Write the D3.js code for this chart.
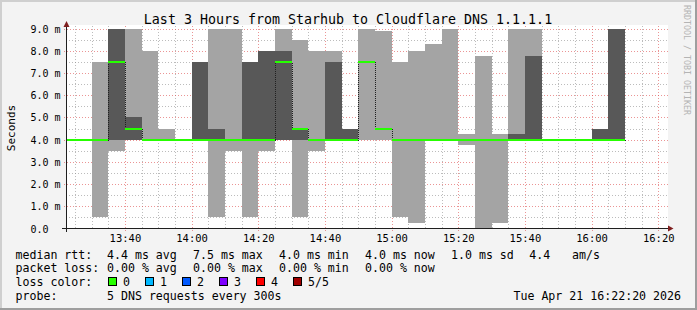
<!DOCTYPE html>
<html><head><meta charset="utf-8">
<script src="https://cdn.jsdelivr.net/npm/d3@7"></script>
<style>
body{margin:0;background:#f3f3f3}
svg{display:block}
text{font-family:"DejaVu Sans Mono",monospace;fill:#000}
</style>
</head><body><svg id="c" width="697" height="310"></svg>
<script>
// ---- data (5-minute intervals, start times) ----
const times = ["13:20","13:25","13:30","13:35","13:40","13:45","13:50","13:55",
  "14:00","14:05","14:10","14:15","14:20","14:25","14:30","14:35","14:40","14:45","14:50","14:55",
  "15:00","15:05","15:10","15:15","15:20","15:25","15:30","15:35","15:40","15:45","15:50","15:55",
  "16:00","16:05"];
// sorted ping results (ms), ping1 = fastest ... ping5 = slowest
const ping1 = [4,4,0.5,3.5,4,4,4,4, 4,0.5,3.5,0.5,3.5,4,0.5,3.5,4,4,4,4, 0.5,0.25,4,4,3.75,0,0.25,4,4,4,4,4, 4,4];
const ping2 = [4,4,4,4,4,4,4,4, 4,4,4,4,4,4,4,4,4,4,7.5,4.5, 4,4,4,4,4,4,4,4,4,4,4,4, 4,4];
const ping3 = [4,4,4,7.5,4.5,4,4,4, 4,4,4,4,4,7.5,4.5,4,4,4,7.5,4.5, 4,4,4,4,4,4,4,4,4,4,4,4, 4,4];
const ping4 = [4,4,4,11,5,4,4,4, 7.5,4.5,4,7.5,8,8,4.5,4,7.5,4.5,7.5,4.5, 4,4,4,4,4,4,4,4.25,7.75,4,4,4, 4.5,11];
const ping5 = [4,4,7.5,14,12,8,4.5,4, 7.5,13,12,7.5,8,11,8.5,8,8,4.5,12,8.9, 7.5,8,8.3,11,4.25,7.75,4.25,12,13,4,4,4, 4.5,12];
const loss  = [0,0,0,0,0,0,0,0, 0,0,0,0,0,0,0,0,0,0,0,0, 0,0,0,0,0,0,0,0,0,0,0,0, 0,0];
const yTicks = [1,2,3,4,5,6,7,8,9];
const yTickLabels = ["0.0","1.0 m","2.0 m","3.0 m","4.0 m","5.0 m","6.0 m","7.0 m","8.0 m","9.0 m"];
const xTickLabels = ["13:40","14:00","14:20","14:40","15:00","15:20","15:40","16:00","16:20"];
const lossLabels = ["0","1","2","3","4","5/5"];
const lossColors = ["#26ff00","#00b8ff","#0059ff","#7e00ff","#ff0000","#a00000"];
const title = "Last 3 Hours from Starhub to Cloudflare DNS 1.1.1.1";
const probeText = "5 DNS requests every 300s";
const stamp = "Tue Apr 21 16:22:20 2026";

// ---- scales ----
const day = "2026-04-21 ";
const parse = d3.timeParse("%Y-%m-%d %H:%M:%S");
const pt = s => parse(day + (s.length === 5 ? s + ":00" : s));
const tStart = pt("13:22:20"), tEnd = pt("16:22:20");
const X0 = 66, X1 = 666, Y0 = 228.5, Y1 = 28.5;
const x = d3.scaleTime().domain([tStart, tEnd]).range([X0, X1]);
const y = d3.scaleLinear().domain([0, 9]).range([Y0, Y1]);
const yc = v => y(Math.min(v, 9));

const svg = d3.select("#c");
// background + frame
svg.append("rect").attr("width",697).attr("height",310).attr("fill","#f3f3f3");
svg.append("rect").attr("x",0).attr("y",0).attr("width",697).attr("height",2).attr("fill","#cfcfcf");
svg.append("rect").attr("x",0).attr("y",0).attr("width",2).attr("height",310).attr("fill","#cfcfcf");
svg.append("rect").attr("x",695).attr("y",0).attr("width",2).attr("height",310).attr("fill","#9e9e9e");
svg.append("rect").attr("x",0).attr("y",308).attr("width",697).attr("height",2).attr("fill","#9e9e9e");
// canvas
svg.append("rect").attr("x",X0).attr("y",25).attr("width",X1 - X0 + 2).attr("height",Y0 - 25).attr("fill","#fff");

// ---- grid ----
const grid = svg.append("g").attr("shape-rendering","crispEdges").attr("stroke-width",1);
const minorY = d3.range(1, 18).map(i => i * 0.5).filter(v => v % 1 !== 0);
grid.selectAll(".hmin").data(minorY).enter().append("line")
  .attr("x1",X0).attr("x2",X1 + 2).attr("y1",d=>Math.round(y(d))+0.5).attr("y2",d=>Math.round(y(d))+0.5)
  .attr("stroke","rgba(143,143,143,0.6)").attr("stroke-dasharray","1,2");
const minorX = d3.timeMinute.every(5).range(tStart, tEnd).filter(d => d.getMinutes() % 20 !== 0);
grid.selectAll(".vmin").data(minorX).enter().append("line")
  .attr("x1",d=>Math.round(x(d))+0.5).attr("x2",d=>Math.round(x(d))+0.5).attr("y1",Y1-3).attr("y2",Y0)
  .attr("stroke","rgba(143,143,143,0.6)").attr("stroke-dasharray","1,2");
grid.selectAll(".hmaj").data(yTicks).enter().append("line")
  .attr("x1",X0 - 2).attr("x2",X1 + 2).attr("y1",d=>Math.round(y(d))+0.5).attr("y2",d=>Math.round(y(d))+0.5)
  .attr("stroke","rgba(222,79,79,0.6)").attr("stroke-dasharray","1,2");
const majorX = xTickLabels.map(pt);
grid.selectAll(".vmaj").data(majorX).enter().append("line")
  .attr("x1",d=>Math.round(x(d))+0.5).attr("x2",d=>Math.round(x(d))+0.5).attr("y1",Y1-3).attr("y2",Y0 + 2)
  .attr("stroke","rgba(222,79,79,0.6)").attr("stroke-dasharray","1,2");

// ---- smoke ----
const rows = times.map((t, i) => {
  const s = pt(t);
  const e = d3.timeMinute.offset(s, 5);
  return {s: s < tStart ? tStart : s, e, p1: ping1[i], p2: ping2[i], p3: ping3[i], p4: ping4[i], p5: ping5[i], loss: loss[i]};
});
const smoke = svg.append("g").attr("shape-rendering","crispEdges");
rows.forEach(r => {
  const xa = Math.round(x(r.s)), xb = Math.round(x(r.e));
  const h1 = y(r.p1) - yc(r.p5);
  if (h1 > 0.1) smoke.append("rect").attr("x",xa).attr("width",xb - xa)
    .attr("y",Math.round(yc(r.p5))).attr("height",Math.round(y(r.p1)) - Math.round(yc(r.p5))).attr("fill","#a4a4a4");
  const h2 = y(r.p2) - yc(r.p4);
  if (h2 > 0.1) smoke.append("rect").attr("x",xa).attr("width",xb - xa)
    .attr("y",Math.round(yc(r.p4))).attr("height",Math.round(y(r.p2)) - Math.round(yc(r.p4))).attr("fill","#585858");
});

// ---- median ----
const pts = rows.map(r => [r.s, r.p3]);
pts.push([rows[rows.length-1].e, rows[rows.length-1].p3]);
const line = d3.line().x(d => Math.round(x(d[0])) + 0.5).y(d => Math.round(y(d[1])) + 0.5).curve(d3.curveStepAfter);
svg.append("path").attr("d", line(pts)).attr("fill","none").attr("stroke","#202020")
  .attr("stroke-width",1).attr("stroke-dasharray","1,1").attr("shape-rendering","crispEdges");
svg.append("g").attr("shape-rendering","crispEdges").selectAll("rect").data(rows).enter().append("rect")
  .attr("x", d => Math.round(x(d.s))).attr("width", d => Math.round(x(d.e)) - Math.round(x(d.s)))
  .attr("y", d => Math.round(y(d.p3)) - 1).attr("height", 2)
  .attr("fill", d => lossColors[d.loss]);

// ---- axes ----
const ax = svg.append("g").attr("shape-rendering","crispEdges");
ax.append("line").attr("x1",X0 - 4).attr("x2",X1 + 3).attr("y1",228.5).attr("y2",228.5).attr("stroke","#1f1f1f");
ax.append("line").attr("x1",X0 + 0.5).attr("x2",X0 + 0.5).attr("y1",232).attr("y2",25).attr("stroke","#1f1f1f");
svg.append("path").attr("d",`M${X0+0.5},21 L${X0+3.5},27 L${X0-2.5},27 Z`).attr("fill","#7f1f1f");
svg.append("path").attr("d",`M${X1+7.5},228.5 L${X1+2},225.5 L${X1+2},231.5 Z`).attr("fill","#7f1f1f");

const xa = d3.axisBottom(x).tickValues(majorX).tickFormat(d3.timeFormat("%H:%M")).tickSize(0).tickPadding(0);
const gx = svg.append("g").attr("transform","translate(0,241.5)").call(xa);
gx.select(".domain").remove();
gx.selectAll("text").attr("font-family","DejaVu Sans Mono").attr("font-size","10.5px").attr("fill","#000")
  .attr("dy",null).attr("y",0);

const ya = d3.axisLeft(y).tickValues([0].concat(yTicks)).tickFormat((d,i) => {
  const l = yTickLabels[i]; return l.length < 5 ? l + "\u00a0\u00a0" : l; }).tickSize(0).tickPadding(0);
const gy = svg.append("g").attr("transform","translate(60.5,0)").call(ya);
gy.select(".domain").remove();
gy.selectAll("text").attr("font-family","DejaVu Sans Mono").attr("font-size","10px").attr("fill","#000")
  .attr("dy","0.35em").attr("x",0);

// ---- titles ----
svg.append("text").attr("x",348).attr("y",23.5).attr("text-anchor","middle").attr("font-size","13.3px").text(title);
svg.append("text").attr("transform","translate(14.5,128) rotate(-90)").attr("text-anchor","middle")
  .attr("font-size","11px").text("Seconds");
svg.append("text").attr("transform","translate(684,5) rotate(90)").attr("text-anchor","start")
  .attr("font-size","8.3px").style("fill","#b4b4b4").text("RRDTOOL / TOBI OETIKER");

// ---- legend ----
const med = ping3;
const avg = d3.mean(med), mx = d3.max(med), mn = d3.min(med), now = med[med.length-1];
const sd = Math.sqrt(d3.mean(med.map(v => (v - avg) ** 2)));
const lavg = d3.mean(loss) / 5 * 100, lmax = d3.max(loss) / 5 * 100, lmin = d3.min(loss) / 5 * 100, lnow = loss[loss.length-1] / 5 * 100;
const f1 = d3.format(".1f"), f2 = d3.format(".2f");
const colX = [107, 193, 279, 365, 451];
const lg = svg.append("g").attr("font-size","11.6px");
const put = (xx, yy, t, anchor) => lg.append("text").attr("x",xx).attr("y",yy).attr("text-anchor",anchor||"start").text(t);
const L = [258.5, 272.3, 286.1, 299.9];
put(15.5, L[0], "median rtt:");
put(colX[0], L[0], f1(avg) + " ms avg");
put(colX[1], L[0], f1(mx) + " ms max");
put(colX[2], L[0], f1(mn) + " ms min");
put(colX[3], L[0], f1(now) + " ms now");
put(colX[4], L[0], f1(sd) + " ms sd");
put(529.3, L[0], f1(avg / sd));
put(572, L[0], "am/s");
put(15.5, L[1], "packet loss:");
put(colX[0], L[1], f2(lavg) + " % avg");
put(colX[1], L[1], f2(lmax) + " % max");
put(colX[2], L[1], f2(lmin) + " % min");
put(colX[3], L[1], f2(lnow) + " % now");
put(15.5, L[2], "loss color:");
lossLabels.forEach((t, i) => {
  const bx = 108.5 + i * 37;
  lg.append("rect").attr("x",bx).attr("y",277.5).attr("width",8).attr("height",8)
    .attr("fill",lossColors[i]).attr("stroke","#000").attr("stroke-width",1);
  put(bx + 14.5, L[2], t);
});
put(15.5, L[3], "probe:");
put(colX[0], L[3], probeText);
put(681, L[3], stamp, "end");
</script>
</body></html>
